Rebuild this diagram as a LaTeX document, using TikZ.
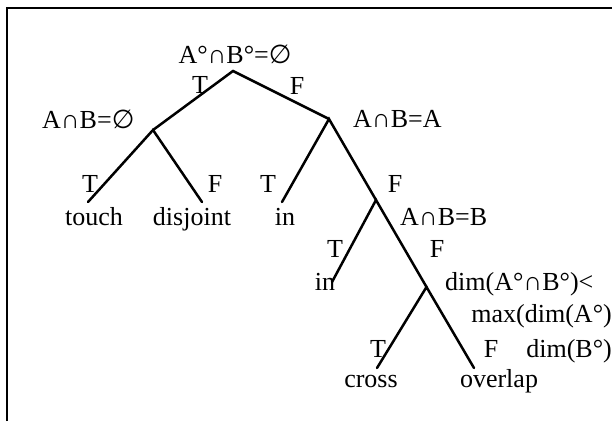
\documentclass[tikz,border=0pt]{standalone}
\usepackage{fontspec}
\setmainfont{Liberation Serif}
\newfontfamily\symf{DejaVu Sans}
\newcommand{\emp}{{\symf ∅}}
\newcommand{\ca}{∩}
\begin{document}
\begin{tikzpicture}[x=1pt,y=-1pt,
  edge/.style={line width=2.5pt, line cap=round},
  lbl/.style={inner sep=0pt, font=\fontsize{26}{30}\selectfont},
  frameline/.style={line width=2pt}]
\useasboundingbox (0,0) rectangle (612,421);
\draw[frameline] (7,421) -- (7,8) -- (612,8);
% junctions and line ends
\coordinate (r) at (233,71);
\coordinate (j1) at (153,130);
\coordinate (j2) at (329,119);
\coordinate (j3) at (376,200);
\coordinate (j4) at (426.5,287);
\coordinate (e1) at (88,202);
\coordinate (e2) at (202,202);
\coordinate (e3) at (282,202);
\coordinate (e4) at (332,282);
\coordinate (e5) at (377,368);
\coordinate (e6) at (474,368);
% edges
\draw[edge] (j1) -- (r) -- (j2);
\draw[edge] (e1) -- (j1) -- (e2);
\draw[edge] (e3) -- (j2) -- (j3);
\draw[edge] (e4) -- (j3) -- (j4);
\draw[edge] (e5) -- (j4) -- (e6);
% condition labels
\node[lbl, anchor=base] (c0) at (235,63) {A°\ca B°=\emp};
\node[lbl, anchor=base west] (c1) at (42,128) {A\ca B=\emp};
\node[lbl, anchor=base west] (c2) at (353,127) {A\ca B=A};
\node[lbl, anchor=base west] (c3) at (400,225) {A\ca B=B};
\node[lbl, anchor=base west] (c4a) at (445,290) {dim(A°\ca B°)<};
\node[lbl, anchor=base east] (c4b) at (612,322) {max(dim(A°)};
\node[lbl, anchor=base east] (c4c) at (612,357) {dim(B°)};
% T/F labels
\node[lbl, anchor=base] (t0) at (200,93) {T};
\node[lbl, anchor=base] (f0) at (297,94) {F};
\node[lbl, anchor=base] (t1) at (90,192) {T};
\node[lbl, anchor=base] (f1) at (215,192) {F};
\node[lbl, anchor=base] (t2) at (268,192) {T};
\node[lbl, anchor=base] (f2) at (395,192) {F};
\node[lbl, anchor=base] (t3) at (335,257) {T};
\node[lbl, anchor=base] (f3) at (437,257) {F};
\node[lbl, anchor=base] (t4) at (378,357) {T};
\node[lbl, anchor=base] (f4) at (491,357) {F};
% leaves
\node[lbl, anchor=base] (touch) at (94,225) {touch};
\node[lbl, anchor=base] (disjoint) at (192,225) {disjoint};
\node[lbl, anchor=base] (in1) at (285,225) {in};
\node[lbl, anchor=base] (in2) at (325,290) {in};
\node[lbl, anchor=base] (cross) at (371,387) {cross};
\node[lbl, anchor=base] (overlap) at (499,387) {overlap};
\end{tikzpicture}
\end{document}
